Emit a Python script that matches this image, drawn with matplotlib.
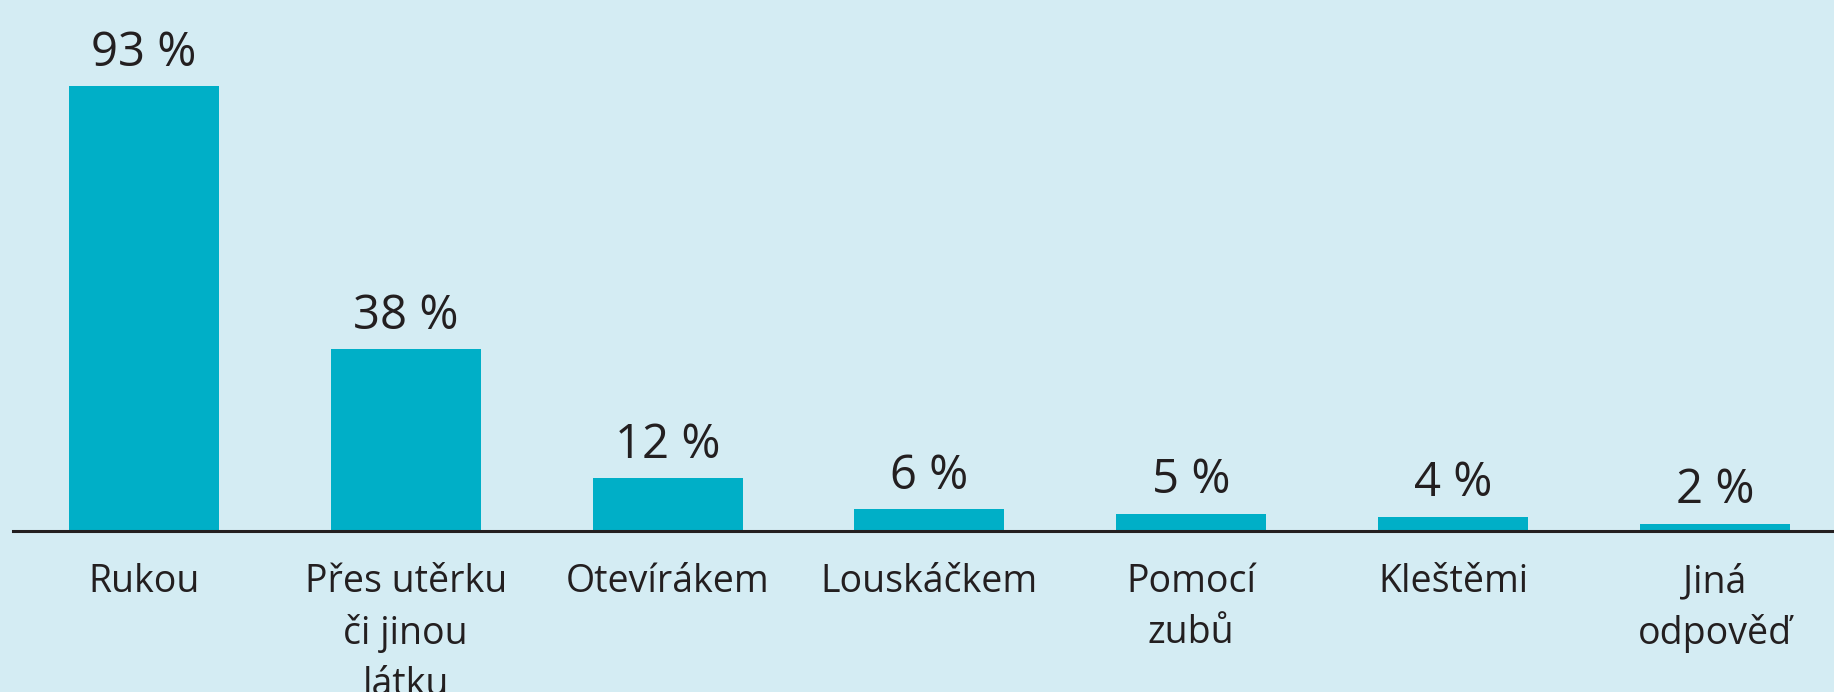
import matplotlib as mpl
mpl.use('Agg')
import matplotlib.pyplot as plt
import numpy as np

# data (bar heights in %, labels as printed)
categories = ["Rukou", "Přes utěrku\nči jinou\nlátku", "Otevírákem", "Louskáčkem",
              "Pomocí\nzubů", "Kleštěmi", "Jiná\nodpověď"]
values = [93, 38, 11, 4.5, 3.6, 2.9, 1.5]
value_labels = ["93 %", "38 %", "12 %", "6 %", "5 %", "4 %", "2 %"]

bg_color = "#d4ecf3"
bar_color = "#00afc7"
text_color = "#231f20"

plt.rcParams['font.family'] = ['Open Sans', 'DejaVu Sans']

fig = plt.figure(figsize=(18.34, 6.92), dpi=100)
fig.patch.set_facecolor(bg_color)

# axes: left edge at the start of the axis line, bottom on the baseline
ax = fig.add_axes([13 / 1834, (692 - 531) / 692, 1 - 13 / 1834, 531 / 692])
ax.set_facecolor(bg_color)

x = np.arange(len(categories))
ax.bar(x, values, width=0.573, color=bar_color, zorder=2)

for xi, v, lab in zip(x, values, value_labels):
    ax.annotate(lab, (xi, v), xytext=(0, 15), textcoords="offset points",
                ha="center", va="baseline", fontsize=34, color=text_color)

ax.set_xlim(-0.5, 6.455)
ax.set_ylim(0, 531 / 4.78)

ax.set_xticks(x)
ax.set_xticklabels(categories, fontsize=27, color=text_color, linespacing=1.44)
ax.tick_params(axis='x', length=0, pad=23)
ax.set_yticks([])

for side in ["top", "right", "left"]:
    ax.spines[side].set_visible(False)
ax.spines["bottom"].set_linewidth(2.2)
ax.spines["bottom"].set_color(text_color)
ax.spines["bottom"].set_zorder(3)

fig.savefig("out.png", dpi=100, facecolor=bg_color)
